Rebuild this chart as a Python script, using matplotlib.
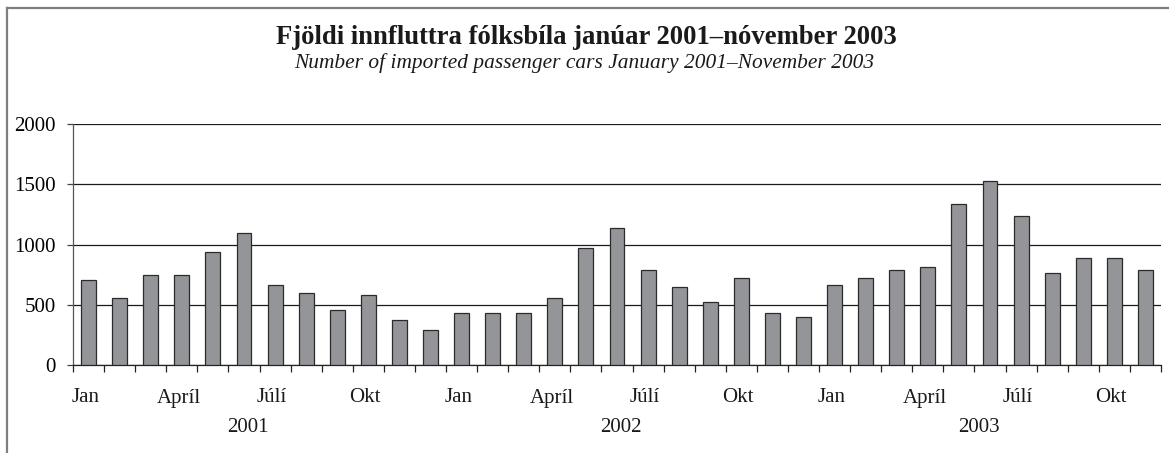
import matplotlib.pyplot as plt
import matplotlib.transforms as mtransforms
from matplotlib.lines import Line2D
import numpy as np

plt.rcParams['font.family'] = ['Liberation Serif', 'DejaVu Serif']

# monthly imported passenger cars, Jan 2001 - Nov 2003
cars_2001 = [705, 560, 745, 745, 935, 1095, 665, 600, 455, 580, 375, 290]
cars_2002 = [435, 435, 435, 560, 975, 1135, 790, 645, 520, 725, 435, 395]
cars_2003 = [665, 725, 790, 810, 1340, 1525, 1240, 765, 890, 890, 790]
years = ['2001', '2002', '2003']
month_labels = ['Jan', 'Apríl', 'Júlí', 'Okt']

values = cars_2001 + cars_2002 + cars_2003
n = len(values)
x = np.arange(n)

fig = plt.figure(figsize=(11.69, 4.53), dpi=100)
ax = fig.add_axes([73 / 1169, 1 - 365 / 453, (1161 - 73) / 1169, (365 - 124) / 453])

ax.bar(x, values, width=0.48, color='#939598', edgecolor='#2b2b2b', linewidth=0.9, zorder=3)

ax.set_xlim(-0.5, n - 0.5)
ax.set_ylim(0, 2000)
ax.set_yticks([0, 500, 1000, 1500, 2000])
ax.yaxis.grid(True, color='#1a1a1a', linewidth=0.9, zorder=0)
ax.tick_params(axis='y', direction='out', length=4.5, width=0.9, color='#444444',
               labelsize=15, pad=8)

# category boundary ticks, no labels
ax.set_xticks(np.arange(-0.5, n, 1.0))
ax.set_xticklabels([])
ax.tick_params(axis='x', direction='out', length=5, width=0.9, color='#222222')

for s in ['top', 'right']:
    ax.spines[s].set_visible(False)
ax.spines['left'].set_color('#555555')
ax.spines['bottom'].set_color('#222222')
ax.spines['left'].set_linewidth(0.9)
ax.spines['bottom'].set_linewidth(0.9)

trans = mtransforms.blended_transform_factory(ax.transData, fig.transFigure)
starts = [0, len(cars_2001), len(cars_2001) + len(cars_2002)]
counts = [len(cars_2001), len(cars_2002), len(cars_2003)]
for yr, st, ct in zip(years, starts, counts):
    for k, lab in enumerate(month_labels):
        if k * 3 < ct:
            ax.text(st + k * 3 - 0.1, 1 - 398 / 453, lab, transform=trans,
                    ha='center', va='center', fontsize=15, color='#1a1a1a')
    ax.text(st + (ct - 1) / 2 - 0.37, 1 - 427 / 453, yr, transform=trans,
            ha='center', va='center', fontsize=15, color='#1a1a1a')

fig.text(0.502, 1 - 37 / 453, 'Fjöldi innfluttra fólksbíla janúar 2001–nóvember 2003',
         ha='center', va='center', fontsize=19.2, fontweight='bold', color='#1a1a1a')
fig.text(0.5, 1 - 63 / 453, 'Number of imported passenger cars January 2001–November 2003',
         ha='center', va='center', fontsize=15.4, style='italic', color='#1a1a1a')

# outer frame (left and top)
fig.add_artist(Line2D([7 / 1169, 7 / 1169], [0, 1 - 8 / 453], transform=fig.transFigure,
                      color='#7f7f7f', linewidth=1.6))
fig.add_artist(Line2D([7 / 1169, 1], [1 - 8 / 453, 1 - 8 / 453], transform=fig.transFigure,
                      color='#7f7f7f', linewidth=1.6))

fig.savefig('out.png', dpi=100)
